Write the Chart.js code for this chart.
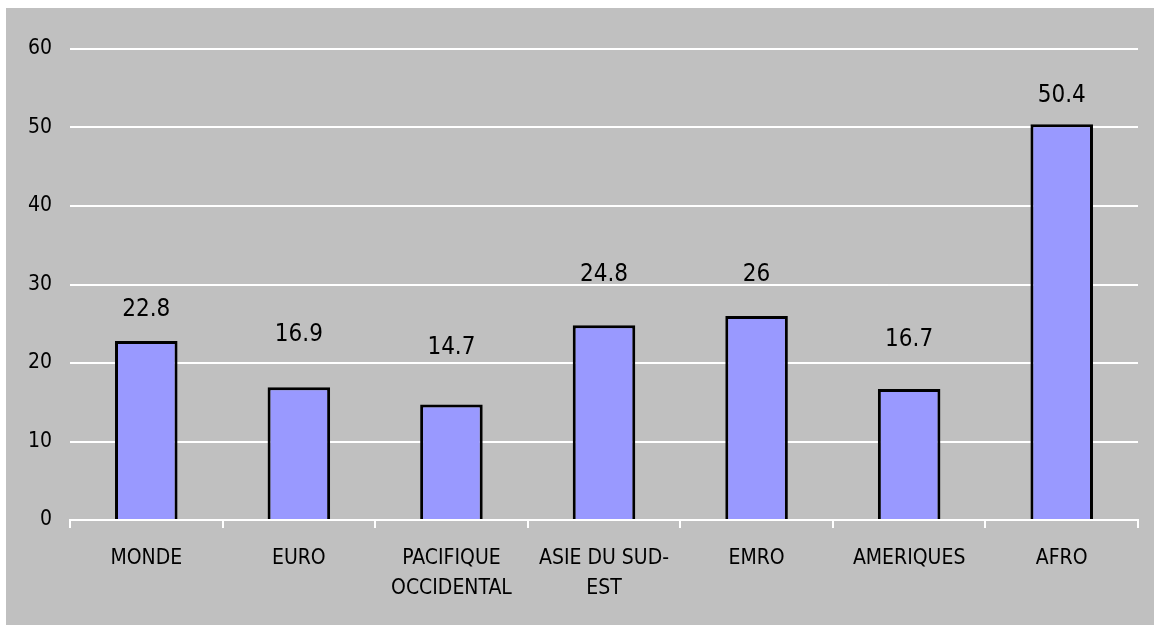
<!DOCTYPE html>
<html>
<head>
<meta charset="utf-8">
<script src="https://cdn.jsdelivr.net/npm/chart.js@4/dist/chart.umd.min.js"></script>
<style>
  html, body { margin: 0; padding: 0; background: #ffffff; }
  #wrap {
    position: absolute;
    left: 6px;
    top: 8px;
    width: 1148px;
    height: 617px;
    background: #c0c0c0;
  }
</style>
</head>
<body>
<div id="wrap"><canvas id="chart"></canvas></div>
<script>
const regions = ['MONDE', 'EURO', ['PACIFIQUE', 'OCCIDENTAL'], ['ASIE DU SUD-', 'EST'], 'EMRO', 'AMERIQUES', 'AFRO'];
const rates = [22.8, 16.9, 14.7, 24.8, 26, 16.7, 50.4];
// heights (in axis units) where the value labels sit in the original
const labelLevels = [26.75, 23.6, 22.0, 31.2, 31.2, 22.9, 54.1];
const yTicks = [0, 10, 20, 30, 40, 50, 60];

const FONT = '"Liberation Sans Narrow", "Arial Narrow", "DejaVu Sans Condensed", sans-serif';

const valueLabels = {
  id: 'valueLabels',
  afterDatasetsDraw(chart) {
    const ctx = chart.ctx;
    const yScale = chart.scales.y;
    const meta = chart.getDatasetMeta(0);
    ctx.save();
    ctx.font = '24px ' + FONT;
    ctx.fillStyle = '#000000';
    ctx.textAlign = 'center';
    ctx.textBaseline = 'middle';
    meta.data.forEach((bar, i) => {
      ctx.fillText(String(rates[i]), bar.x, yScale.getPixelForValue(labelLevels[i]));
    });
    ctx.restore();
  }
};

new Chart(document.getElementById('chart'), {
  type: 'bar',
  data: {
    labels: regions,
    datasets: [{
      data: rates,
      backgroundColor: '#9999ff',
      borderColor: '#000000',
      borderWidth: 3,
      borderSkipped: 'start',
      barPercentage: 0.41,
      categoryPercentage: 1
    }]
  },
  options: {
    responsive: true,
    maintainAspectRatio: false,
    animation: false,
    layout: { padding: { left: 0, right: 16, top: 41, bottom: 0 } },
    plugins: {
      legend: { display: false },
      tooltip: { enabled: false }
    },
    scales: {
      x: {
        afterFit: axis => { axis.height = 105; },
        grid: {
          display: true,
          offset: true,
          drawOnChartArea: false,
          drawTicks: true,
          tickLength: 8,
          color: '#ffffff',
          lineWidth: 2
        },
        border: { display: true, color: '#ffffff', width: 2 },
        ticks: {
          color: '#000000',
          autoSkip: false,
          maxRotation: 0,
          padding: 16,
          font: { family: FONT, size: 21, lineHeight: 1.43 }
        }
      },
      y: {
        min: 0,
        max: 60,
        afterFit: axis => { axis.width = 64; },
        afterBuildTicks: axis => { axis.ticks = yTicks.map(v => ({ value: v })); },
        grid: {
          color: '#ffffff',
          lineWidth: 2,
          drawTicks: false
        },
        border: { display: false },
        ticks: {
          color: '#000000',
          padding: 18,
          font: { family: FONT, size: 21 }
        }
      }
    }
  },
  plugins: [valueLabels]
});
</script>
</body>
</html>
